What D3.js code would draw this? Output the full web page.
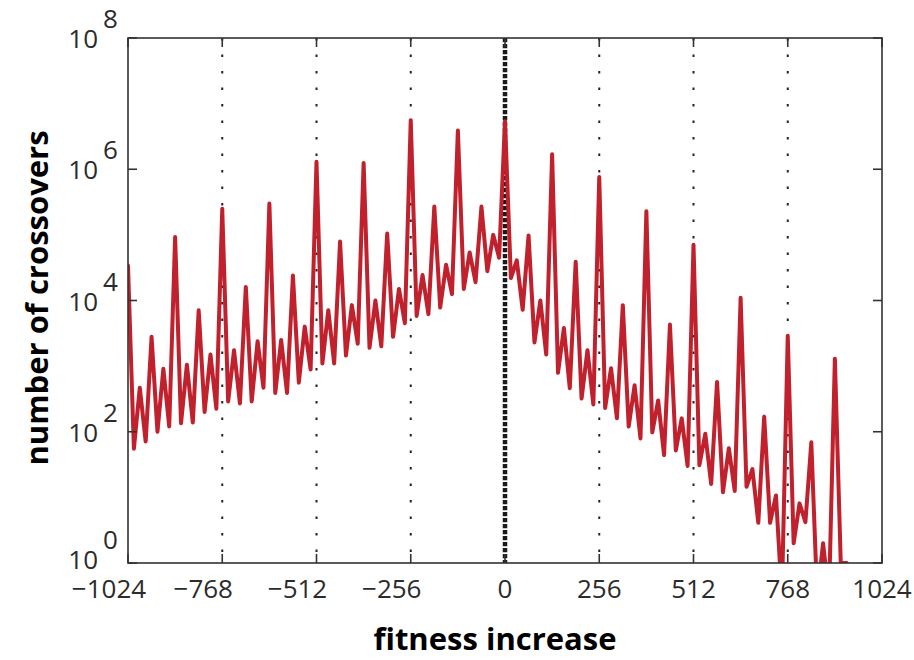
<!DOCTYPE html>
<html>
<head>
<meta charset="utf-8">
<script src="https://cdn.jsdelivr.net/npm/d3@7"></script>
<style>
  html, body { margin: 0; padding: 0; background: #fff; }
  svg { display: block; }
</style>
</head>
<body>
<svg id="chart" width="914" height="660"></svg>
<script>
// Fitness increase (x) sampled every 16 units
const fitness = [
  -1024, -1008, -992, -976, -960, -944, -928, -912,
  -896, -880, -864, -848, -832, -816, -800, -784,
  -768, -752, -736, -720, -704, -688, -672, -656,
  -640, -624, -608, -592, -576, -560, -544, -528,
  -512, -496, -480, -464, -448, -432, -416, -400,
  -384, -368, -352, -336, -320, -304, -288, -272,
  -256, -240, -224, -208, -192, -176, -160, -144,
  -128, -112, -96, -80, -64, -48, -32, -16,
  0, 16, 32, 48, 64, 80, 96, 112,
  128, 144, 160, 176, 192, 208, 224, 240,
  256, 272, 288, 304, 320, 336, 352, 368,
  384, 400, 416, 432, 448, 464, 480, 496,
  512, 528, 544, 560, 576, 592, 608, 624,
  640, 656, 672, 688, 704, 720, 736, 752,
  768, 784, 800, 816, 832, 848, 864, 880,
  896, 912, 928
];

// Number of crossovers observed at each fitness increase
const crossovers = [
  3.4e4, 55, 470, 71, 2.8e3, 100, 910, 120,
  9.3e4, 135, 1.05e3, 138, 7.1e3, 200, 1.5e3, 224,
  2.5e5, 290, 1.75e3, 270, 1.6e4, 290, 2.4e3, 470,
  3.0e5, 390, 2.5e3, 390, 2.4e4, 560, 4.0e3, 890,
  1.3e6, 1.1e3, 7.1e3, 1.1e3, 7.9e4, 1.45e3, 8.5e3, 2.2e3,
  1.25e6, 1.9e3, 1.0e4, 2.0e3, 1.05e5, 2.8e3, 1.5e4, 4.5e3,
  5.6e6, 5.8e3, 2.45e4, 6.2e3, 2.7e5, 7.8e3, 3.5e4, 1.25e4,
  3.9e6, 1.5e4, 5.4e4, 1.9e4, 2.7e5, 2.8e4, 1.0e5, 4.5e4,
  5.4e6, 2.2e4, 4.1e4, 7.2e3, 9.8e4, 2.3e3, 1.0e4, 1.5e3,
  1.7e6, 790, 3.8e3, 460, 3.9e4, 320, 1.75e3, 260,
  7.6e5, 230, 930, 160, 8.5e3, 120, 510, 79,
  2.3e5, 98, 300, 44, 4.3e3, 52, 160, 30,
  7.1e4, 31, 93, 16, 575, 12, 56, 12.5,
  1.1e4, 14.5, 27, 4.1, 170, 4.1, 10.7, 0.3,
  2.9e3, 2.0, 8.1, 4.2, 69, 0.3, 2.0, 0.3,
  1.3e3, 1, 1
];

const xTicks = [-1024, -768, -512, -256, 0, 256, 512, 768, 1024];
const yExponents = [0, 2, 4, 6, 8];
const xTitle = "fitness increase";
const yTitle = "number of crossovers";

const svg = d3.select("#chart");
const margin = { left: 128, right: 32, top: 38, bottom: 97 };
const W = 914, H = 660;
const x0 = margin.left, x1 = W - margin.right;
const y0 = margin.top, y1 = H - margin.bottom;

const x = d3.scaleLinear().domain([-1024, 1024]).range([x0, x1]);
const y = d3.scaleLog().domain([1, 1e8]).range([y1, y0]);

svg.append("defs").append("clipPath").attr("id", "plot-clip")
  .append("rect")
  .attr("x", x0).attr("y", y0)
  .attr("width", x1 - x0).attr("height", y1 - y0);

// Dotted vertical grid lines at the labelled fitness values
svg.append("g").selectAll("line")
  .data(xTicks.filter(d => d !== 0 && Math.abs(d) !== 1024))
  .join("line")
  .attr("x1", d => x(d)).attr("x2", d => x(d))
  .attr("y1", y0).attr("y2", y1)
  .attr("stroke", "#222")
  .attr("stroke-width", 2)
  .attr("stroke-dasharray", "2.5,14");

// Heavy dashed line marking zero fitness change
svg.append("line")
  .attr("x1", x(0)).attr("x2", x(0))
  .attr("y1", y0).attr("y2", y1)
  .attr("stroke", "#1a1a1a")
  .attr("stroke-width", 4.5)
  .attr("stroke-dasharray", "4.3,1.7");

// Crossover count curve
const pts = fitness.map((f, i) => [f, crossovers[i]]);
const line = d3.line()
  .x(d => x(d[0]))
  .y(d => y(d[1]));

svg.append("path")
  .datum(pts)
  .attr("clip-path", "url(#plot-clip)")
  .attr("fill", "none")
  .attr("stroke", "#c0212c")
  .attr("stroke-width", 4)
  .attr("stroke-linejoin", "round")
  .attr("stroke-linecap", "round")
  .attr("d", line);

// Axes box with inward ticks
const frame = svg.append("g");
frame.append("rect")
  .attr("x", x0).attr("y", y0)
  .attr("width", x1 - x0).attr("height", y1 - y0)
  .attr("fill", "none")
  .attr("stroke", "#333")
  .attr("stroke-width", 1.6);

const tickLen = 9;
frame.selectAll(".xt-b").data(xTicks).join("line")
  .attr("x1", d => x(d)).attr("x2", d => x(d))
  .attr("y1", y1).attr("y2", y1 - tickLen)
  .attr("stroke", "#333").attr("stroke-width", 1.6);
frame.selectAll(".xt-t").data(xTicks).join("line")
  .attr("x1", d => x(d)).attr("x2", d => x(d))
  .attr("y1", y0).attr("y2", y0 + tickLen)
  .attr("stroke", "#333").attr("stroke-width", 1.6);
frame.selectAll(".yt-l").data(yExponents).join("line")
  .attr("x1", x0).attr("x2", x0 + tickLen)
  .attr("y1", d => y(Math.pow(10, d))).attr("y2", d => y(Math.pow(10, d)))
  .attr("stroke", "#333").attr("stroke-width", 1.6);
frame.selectAll(".yt-r").data(yExponents).join("line")
  .attr("x1", x1).attr("x2", x1 - tickLen)
  .attr("y1", d => y(Math.pow(10, d))).attr("y2", d => y(Math.pow(10, d)))
  .attr("stroke", "#333").attr("stroke-width", 1.6);

const tickFont = "'Open Sans', 'Noto Sans', sans-serif";

// x tick labels; negative values use a minus sign that hangs to the left
svg.append("g").selectAll("text").data(xTicks).join("text")
  .attr("x", d => d < 0 ? x(d) - 19 : x(d))
  .attr("y", y1 + 35)
  .attr("text-anchor", "middle")
  .attr("font-family", tickFont)
  .attr("font-size", 26)
  .attr("fill", "#2b2b2b")
  .text(d => d < 0 ? "\u2212" + Math.abs(d) : String(d));

// y tick labels: base 10 with raised exponent
const yl = svg.append("g");
yExponents.forEach(e => {
  const ty = y(Math.pow(10, e));
  const baseDy = e === 0 ? 6 : 10;
  yl.append("text")
    .attr("x", 98).attr("y", ty + baseDy)
    .attr("text-anchor", "end")
    .attr("font-family", tickFont)
    .attr("font-size", 26)
    .attr("fill", "#2b2b2b")
    .text("10");
  yl.append("text")
    .attr("x", 103).attr("y", ty + baseDy - 20)
    .attr("text-anchor", "start")
    .attr("font-family", tickFont)
    .attr("font-size", 26)
    .attr("fill", "#2b2b2b")
    .text(e);
});

// Axis titles
svg.append("text")
  .attr("x", 495).attr("y", 650)
  .attr("text-anchor", "middle")
  .attr("font-family", tickFont)
  .attr("font-weight", "bold")
  .attr("font-size", 31)
  .attr("fill", "#000")
  .text(xTitle);

svg.append("text")
  .attr("transform", "translate(48,298) rotate(-90)")
  .attr("text-anchor", "middle")
  .attr("font-family", tickFont)
  .attr("font-weight", "bold")
  .attr("font-size", 31)
  .attr("fill", "#000")
  .text(yTitle);
</script>
</body>
</html>
